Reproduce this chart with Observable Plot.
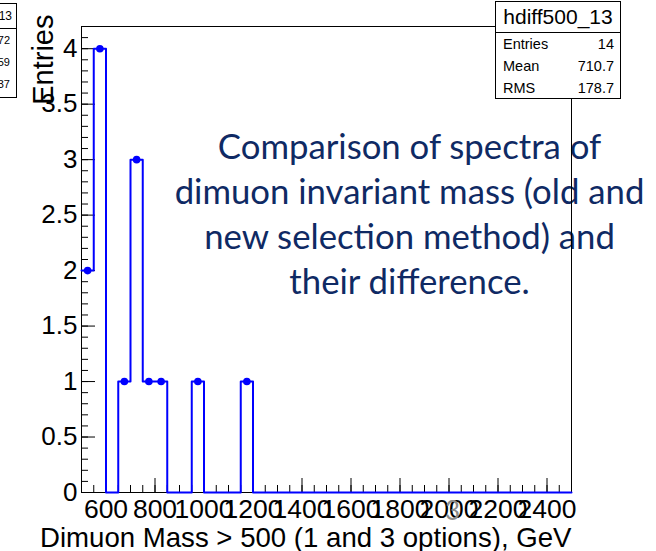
<!DOCTYPE html>
<html><head><meta charset="utf-8">
<script src="https://cdn.jsdelivr.net/npm/d3@7"></script>
<script src="https://cdn.jsdelivr.net/npm/@observablehq/plot@0.6"></script>
<style>
body{margin:0;background:#fff;}
#wrap{position:relative;width:656px;height:551px;overflow:hidden;font-family:"Liberation Sans",Arial,sans-serif;}
#chart{position:absolute;left:0;top:0;z-index:1;}
.stats{position:absolute;background:#fff;border:1px solid #000;z-index:2;box-sizing:border-box;color:#000;}
.stats .ttl{border-bottom:1px solid #000;display:flex;align-items:center;justify-content:center;box-sizing:border-box;}
.stats .row{display:flex;justify-content:space-between;align-items:center;box-sizing:border-box;}
#pnum{position:absolute;z-index:3;color:#8c8c8c;font-family:Lato,sans-serif;font-size:26px;}
</style></head>
<body>
<div id="wrap"><div id="chart"></div></div>
<script>
// ---- data ----
const xMin = 500, xMax = 2500, binWidth = 50;
const counts = [2,4,0,1,3,1,1,0,0,1, 0,0,0,1,0,0,0,0,0,0, 0,0,0,0,0,0,0,0,0,0, 0,0,0,0,0,0,0,0,0,0];
const xMajorTicks = [600,800,1000,1200,1400,1600,1800,2000,2200,2400];
const yMajorTicks = [0,0.5,1,1.5,2,2.5,3,3.5,4];
const yMax = 4.2;
const xTitle = "Dimuon Mass > 500 (1 and 3 options), GeV";
const yTitle = "Entries";
const statsTitle = "hdiff500_13";
const statsNames = ["Entries","Mean","RMS"];
const statsValues = ["14","710.7","178.7"];
const otherStatsTitle = "hdiff500_13";
const otherStatsValues = ["272","1.59","1.37"];
const noteLines = ["Comparison of spectra of","dimuon invariant mass (old and","new selection method) and","their difference."];
const pageNumber = "3";

// ---- derived ----
const bins = counts.map((c,i)=>({x0:xMin+i*binWidth, x1:xMin+(i+1)*binWidth, c}));
const step = bins.flatMap(b=>[{x:b.x0,y:b.c},{x:b.x1,y:b.c}]);
const xMinor = d3.range(xMin, xMax+1, binWidth);
const yMinor = d3.range(0, 42).map(i=>i/10);

const W=656,H=551,mL=81,mR=85,mT=26,mB=59;
const innerW=W-mL-mR, innerH=H-mT-mB;

// annotation font size fitted to measured width of first line
const cv = document.createElement("canvas").getContext("2d");
cv.font = "32px Lato";
const noteSize = 32*384/cv.measureText(noteLines[0]).width;

const chart = Plot.plot({
  width:W,height:H,marginLeft:mL,marginRight:mR,marginTop:mT,marginBottom:mB,
  style:{background:"transparent",fontFamily:"'Liberation Sans', Arial, sans-serif",color:"#000",overflow:"visible"},
  x:{domain:[xMin,xMax],axis:null},
  y:{domain:[0,yMax],axis:null},
  marks:[
    Plot.text([noteLines.join("\n")],{frameAnchor:"top-left",textAnchor:"middle",lineAnchor:"bottom",dx:409-mL,dy:293-mT,fontSize:noteSize,lineHeight:45/noteSize,fill:"#0f2a64",fontFamily:"Lato, sans-serif"}),
    Plot.frame({stroke:"#000"}),
    Plot.tickX(xMinor,{x:d=>d,stroke:"#000",insetTop:innerH-7}),
    Plot.tickX(xMajorTicks,{x:d=>d,stroke:"#000",insetTop:innerH-14}),
    Plot.tickY(yMinor,{y:d=>d,stroke:"#000",insetRight:innerW-7}),
    Plot.tickY(yMajorTicks,{y:d=>d,stroke:"#000",insetRight:innerW-14}),
    Plot.axisX({ticks:xMajorTicks,tickSize:0,tickPadding:7,fontSize:26.5,label:null,tickFormat:d=>String(d)}),
    Plot.axisY({ticks:yMajorTicks,tickSize:0,tickPadding:4,fontSize:26,label:null,tickFormat:d=>String(d)}),
    Plot.line(step,{x:"x",y:"y",stroke:"#0000ff",strokeWidth:2}),
    Plot.dot(bins.filter(b=>b.c>0),{x:b=>(b.x0+b.x1)/2,y:"c",r:3.8,fill:"#0000ff"}),
    Plot.text([xTitle],{frameAnchor:"bottom-right",textAnchor:"end",lineAnchor:"bottom",dy:54,fontSize:27.6}),
    Plot.text([yTitle],{frameAnchor:"top-left",rotate:-90,textAnchor:"end",dx:-49,dy:-12,fontSize:29})
  ]
});
chart.style.background = "transparent";
document.getElementById("chart").appendChild(chart);

const wrap = document.getElementById("wrap");
// main stats box
const sb = document.createElement("div");
sb.className = "stats";
Object.assign(sb.style,{left:"495px",top:"1px",width:"126px",height:"98px"});
const t = document.createElement("div");
t.className="ttl"; t.style.height="31px"; t.style.fontSize="21px"; t.textContent=statsTitle;
sb.appendChild(t);
statsNames.forEach((n,i)=>{
  const r=document.createElement("div"); r.className="row";
  Object.assign(r.style,{height:"22px",fontSize:"14.5px",padding:"0 6px 0 7px"});
  const a=document.createElement("span"); a.textContent=n;
  const b=document.createElement("span"); b.textContent=statsValues[i];
  r.appendChild(a); r.appendChild(b); sb.appendChild(r);
});
wrap.appendChild(sb);

// clipped stats box at left edge
const ob = document.createElement("div");
ob.className = "stats";
Object.assign(ob.style,{left:"-80px",top:"3px",width:"97px",height:"95px"});
const t2=document.createElement("div");
t2.className="ttl"; Object.assign(t2.style,{height:"25px",fontSize:"12px",justifyContent:"flex-end",paddingRight:"4px"}); t2.textContent=otherStatsTitle;
ob.appendChild(t2);
otherStatsValues.forEach(v=>{
  const r=document.createElement("div"); r.className="row";
  Object.assign(r.style,{height:"22px",fontSize:"11px",justifyContent:"flex-end",paddingRight:"6px"});
  r.textContent=v; ob.appendChild(r);
});
wrap.appendChild(ob);

// slide page number
const pn=document.createElement("div");
pn.id="pnum"; pn.textContent=pageNumber;
Object.assign(pn.style,{left:"445px",top:"494px"});
wrap.appendChild(pn);
</script>
</body></html>
